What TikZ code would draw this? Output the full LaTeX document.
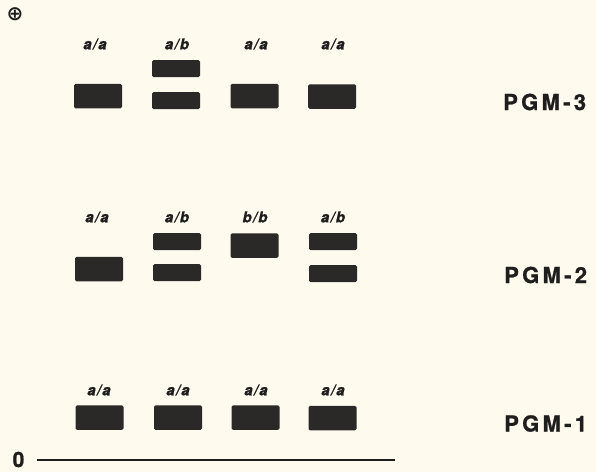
\documentclass[tikz,border=0pt]{standalone}
\usepackage{fontspec}
\setmainfont{TeX Gyre Heros}
\newfontfamily\lblfont[LetterSpace=8,BoldFeatures={FakeBold=0.8},BoldItalicFeatures={FakeBold=0.8}]{TeX Gyre Heros}
\newfontfamily\pgmfont[LetterSpace=15,BoldFeatures={FakeBold=1}]{TeX Gyre Heros}
\newfontfamily\zerofont[BoldFeatures={FakeBold=1}]{TeX Gyre Heros}
\newfontfamily\symfont{DejaVu Sans}
\definecolor{paper}{HTML}{FFFAEE}
\definecolor{band}{HTML}{2B2828}
\definecolor{ink}{HTML}{1E1E1E}
\begin{document}
\begin{tikzpicture}[x=1pt,y=-1pt,
  bandbox/.style={fill=band,draw=none,rounded corners=1.5pt,minimum width=48pt,inner sep=0pt,outer sep=0pt},
  thick band/.style={bandbox,minimum height=24.5pt},
  thin band/.style={bandbox,minimum height=17pt},
  geno/.style={font=\lblfont\fontsize{15}{16}\selectfont\bfseries\itshape,text=ink,inner sep=0pt},
  locus/.style={font=\pgmfont\fontsize{22}{24}\selectfont\bfseries,text=ink,inner sep=0pt,anchor=west}]
\fill[paper] (0,0) rectangle (596,472);
\useasboundingbox (0,0) rectangle (596,472);
% marker
\node[font=\symfont\fontsize{20}{20}\selectfont\bfseries,text=ink,inner sep=0pt] (plus) at (15,14.5) {⊕};
% PGM-3
\node[geno] (g3a) at (95,44) {a/a};
\node[geno] (g3b) at (177,44) {a/b};
\node[geno] (g3c) at (256,44) {a/a};
\node[geno] (g3d) at (333,44) {a/a};
\node[thick band] (b3a) at (98,96) {};
\node[thin band] (b3b1) at (176,68.5) {};
\node[thin band] (b3b2) at (176,100.5) {};
\node[thick band] (b3c) at (254.5,96) {};
\node[thick band] (b3d) at (332,96.5) {};
\node[locus] (l3) at (503,102) {PGM-3};
% PGM-2
\node[geno] (g2a) at (97,217) {a/a};
\node[geno] (g2b) at (177,217) {a/b};
\node[geno] (g2c) at (255,217) {b/b};
\node[geno] (g2d) at (333,217) {a/b};
\node[thick band] (b2a) at (99,269) {};
\node[thin band] (b2b1) at (177,241.5) {};
\node[thin band] (b2b2) at (177,272.5) {};
\node[thick band] (b2c) at (254.5,245.5) {};
\node[thin band] (b2d1) at (333,241.5) {};
\node[thin band] (b2d2) at (333,273.5) {};
\node[locus] (l2) at (504,275) {PGM-2};
% PGM-1
\node[geno] (g1a) at (99,390) {a/a};
\node[geno] (g1b) at (178,390) {a/a};
\node[geno] (g1c) at (256,390) {a/a};
\node[geno] (g1d) at (333,390) {a/a};
\node[thick band] (b1a) at (99.5,417.5) {};
\node[thick band] (b1b) at (178,417.5) {};
\node[thick band] (b1c) at (255.5,417.5) {};
\node[thick band] (b1d) at (332.5,418) {};
\node[locus] (l1) at (504,423.5) {PGM-1};
% origin
\node[font=\zerofont\fontsize{21}{22}\selectfont\bfseries,text=ink,inner sep=0pt] (zero) at (18.5,459.5) {0};
\coordinate (lineend) at (395,460);
\draw[ink,line width=1.4pt] (zero.east |- lineend) ++(12,0) -- (lineend);
\end{tikzpicture}
\end{document}
